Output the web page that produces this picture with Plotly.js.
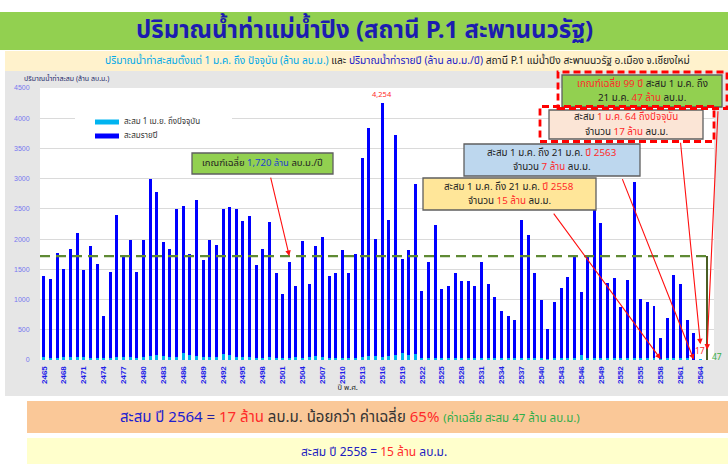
<!DOCTYPE html>
<html><head><meta charset="utf-8">
<script src="https://cdn.plot.ly/plotly-3.0.1.min.js"></script>
<style>html,body{margin:0;padding:0;background:#fff;}#chart{width:728px;height:464px;}</style>
</head><body><div id="chart"></div>
<script>
const years = [2465,2466,2467,2468,2469,2470,2471,2472,2473,2474,2475,2476,2477,2478,2479,2480,2481,2482,2483,2484,
2485,2486,2487,2488,2489,2490,2491,2492,2493,2494,2495,2496,2497,2498,2499,2500,2501,2502,2503,2504,
2505,2506,2507,2508,2509,2510,2511,2512,2513,2514,2515,2516,2517,2518,2519,2520,2521,2522,2523,2524,
2525,2526,2527,2528,2529,2530,2531,2532,2533,2534,2535,2536,2537,2538,2539,2540,2541,2542,2543,2544,
2545,2546,2547,2548,2549,2550,2551,2552,2553,2554,2555,2556,2557,2558,2559,2560,2561,2562,2563,2564];
// annual runoff (million m3/yr)
const annual = [1390,1340,1775,1500,1830,2105,1495,1885,1595,730,1455,2400,1700,1990,1450,1990,2995,2785,1955,1835,
2505,2545,1755,2645,1650,1985,1910,2490,2535,2500,2300,2385,1580,1835,2275,1435,1100,1625,1225,1975,
1255,1890,2035,1390,1445,1815,1445,1755,3340,3835,1995,4254,2320,3730,1670,1825,2910,1135,1625,2240,
1170,1230,1435,1315,1300,1230,1625,1255,1045,810,725,670,2320,2070,1445,995,510,965,1185,1375,
1720,1125,1745,2900,2265,1275,1355,870,1330,2940,1015,960,900,370,690,1405,1255,655,450,17];
// cumulative since 1 Jan to date (million m3)
const ytd = [45,40,40,45,50,55,45,40,40,30,30,45,50,45,40,45,60,75,60,50,
55,110,80,60,50,45,50,100,85,55,45,50,35,40,45,40,35,40,45,40,
55,70,50,40,35,40,35,35,55,70,60,55,65,75,110,80,95,40,35,40,
30,30,35,30,30,35,30,25,25,25,25,25,30,30,25,25,20,25,25,25,
30,90,40,35,30,30,30,25,30,35,30,30,25,15,25,30,35,25,7,17];
const tickYears = [2465,2468,2471,2474,2477,2480,2483,2486,2489,2492,2495,2498,2501,2504,2507,2510,2513,2516,
2519,2522,2525,2528,2531,2534,2537,2540,2543,2546,2549,2552,2555,2558,2561,2564];
const seriesNames = ['สะสม 1 เม.ย. ถึงปัจจุบัน', 'สะสมรายปี'];
const seriesColors = ['#00b4f0', '#0000ff'];
const avgAnnual = 1720;   // long-term mean, million m3/yr
const avgYtd = 47;        // 99-yr mean 1-21 Jan
const avgSlot = 2565;
const peakYear = 2516, peakVal = 4254;

const W = 728, H = 464;
const px = x => x / W, py = y => 1 - y / H;
const FONT = "Tahoma, 'Noto Sans Thai', 'Noto Sans', 'DejaVu Sans', sans-serif";
const RED = '#ff2a2a', DARK = '#222222';
const span = (c, t) => `<span style="color:${c}">${t}</span>`;

const traces = [
  {type:'bar', x:years, y:annual, name:seriesNames[1], width:0.45, showlegend:false,
   marker:{color:seriesColors[1], line:{width:0}}, hoverinfo:'x+y'},
  {type:'bar', x:years, y:ytd, name:seriesNames[0], width:0.45, showlegend:false,
   marker:{color:seriesColors[0], line:{width:0}}, hoverinfo:'x+y'},
  {type:'bar', x:[avgSlot], y:[avgAnnual], width:0.42, showlegend:false,
   marker:{color:'#4a5e24'}, hoverinfo:'y'}
];

const shapes = [];
const annotations = [];
const rectP = (x0,y0,x1,y1,fill,layer,line) => ({type:'rect', xref:'paper', yref:'paper', x0:px(x0), x1:px(x1), y0:py(y1), y1:py(y0),
  fillcolor:fill, line:line||{width:0}, layer:layer||'below'});
const txt = (x,y,text,size,color,anchor,extra) => Object.assign({xref:'paper', yref:'paper', x:px(x), y:py(y), text:text,
  showarrow:false, xanchor:anchor||'center', yanchor:'middle', font:{family:FONT, size:size, color:color||DARK}}, extra||{});

// page backgrounds
shapes.push(rectP(0,12,728,50,'#92d050'));
shapes.push(rectP(5,51,728,71,'#fff2cc'));
shapes.push(rectP(5,71,728,396,'#e6e6e6'));
shapes.push(rectP(40,88,714,360,'#ffffff'));
shapes.push(rectP(27,401,728,433,'#fac898'));
shapes.push(rectP(27,438,728,464,'#ffffcc'));
// average line
shapes.push({type:'line', xref:'x', yref:'y', x0:2464.4, x1:avgSlot, y0:avgAnnual, y1:avgAnnual,
   line:{color:'#5f8a34', width:2.2, dash:'10px,6px'}, layer:'above'});
// legend (white panel + swatches)
shapes.push(rectP(75,111,232,145,'#ffffff','above'));
shapes.push(rectP(95,119.5,119,124.5,seriesColors[0],'above'));
shapes.push(rectP(95,133.5,119,138.5,seriesColors[1],'above'));
annotations.push(txt(122,122,seriesNames[0],8,'#333333','left'));
annotations.push(txt(122,136,seriesNames[1],8,'#333333','left'));

// arrows
function arrow(xh,yh,ax,ay){
  annotations.push({x:xh, y:yh, xref:'x', yref:'y', ax:ax, ay:ay, axref:'pixel', ayref:'pixel',
    text:'', showarrow:true, arrowcolor:'#ff1010', arrowwidth:1.1, arrowhead:2, arrowsize:1, standoff:0, startstandoff:0});
}
arrow(2502, avgAnnual, -19, -80);
arrow(2563, ytd[98], -72, -182);
arrow(2558, ytd[93], -108, -147);
arrow(2564, 260, -20, -203);
arrow(avgSlot, 170, 11, -240);

// callout boxes: background shape + one annotation per line
function box(x0,y0,x1,y1,fill,lines,size,gap){
  shapes.push(rectP(x0,y0,x1,y1,fill,'above',{color:'#5f5f5f', width:1.3}));
  const cx = (x0+x1)/2, cy = (y0+y1)/2;
  lines.forEach((t,i) => annotations.push(txt(cx, cy + (i - (lines.length-1)/2)*gap, t, size, DARK)));
}
box(192,153,333,174,'#92d050', ['เกณฑ์เฉลี่ย ' + span('#2040d0','1,720 ล้าน') + ' ลบ.ม./ปี'], 9.5, 0);
box(464,144,640,176,'#bdd7ee', ['สะสม 1 ม.ค. ถึง 21 ม.ค. ' + span(RED,'ปี 2563'), 'จำนวน ' + span(RED,'7 ล้าน') + ' ลบ.ม.'], 9.8, 15);
box(423,178,596,210,'#ffe699', ['สะสม 1 ม.ค. ถึง 21 ม.ค. ' + span(RED,'ปี 2558'), 'จำนวน ' + span(RED,'15 ล้าน') + ' ลบ.ม.'], 9.8, 15);
box(549,110,703,139,'#fbe5d6', ['สะสม ' + span(RED,'1 ม.ค. 64 ถึงปัจจุบัน'), 'จำนวน ' + span(RED,'17 ล้าน') + ' ลบ.ม.'], 9.8, 14.5);
box(562,75,722,107,'#92d050', [span(RED,'เกณฑ์เฉลี่ย 99 ปี') + ' สะสม 1 ม.ค. ถึง', '21 ม.ค. ' + span(RED,'47 ล้าน') + ' ลบ.ม.'], 9.8, 15);
// dashed red highlight frames
shapes.push({type:'rect', xref:'paper', yref:'paper', x0:px(540), x1:px(714), y0:py(141.5), y1:py(106.5),
   line:{color:'#ff0000', width:2.8, dash:'7px,4px'}, fillcolor:'rgba(0,0,0,0)', layer:'above'});
shapes.push({type:'rect', xref:'paper', yref:'paper', x0:px(558), x1:px(727), y0:py(108.5), y1:py(72),
   line:{color:'#ff0000', width:2.8, dash:'7px,4px'}, fillcolor:'rgba(0,0,0,0)', layer:'above'});

// titles and labels
annotations.push(txt(364,31,'<b>ปริมาณน้ำท่าแม่น้ำปิง (สถานี P.1 สะพานนวรัฐ)</b>',24,'#1c1cb0'));
annotations.push(txt(398,61, span('#00a8e8','ปริมาณน้ำท่าสะสมตั้งแต่ 1 ม.ค. ถึง ปัจจุบัน (ล้าน ลบ.ม.)') + ' และ ' +
   span('#2020c8','ปริมาณน้ำท่ารายปี (ล้าน ลบ.ม./ปี)') + ' สถานี P.1 แม่น้ำปิง สะพานนวรัฐ อ.เมือง จ.เชียงใหม่', 10.2, DARK));
annotations.push(txt(22,79,'ปริมาณน้ำท่าสะสม (ล้าน ลบ.ม.)',7,'#1f2a6b','left'));
annotations.push(txt(347,387,'ปี พ.ศ.',7.5,DARK));
annotations.push({x:peakYear, y:peakVal, xref:'x', yref:'y', text:peakVal.toLocaleString('en-US'), showarrow:false,
   yanchor:'bottom', yshift:1, font:{family:FONT, size:7.5, color:RED}});
annotations.push({x:2564, y:ytd[ytd.length-1], xref:'x', yref:'y', text:String(ytd[ytd.length-1]), showarrow:false,
   yanchor:'bottom', yshift:-1, font:{family:FONT, size:8.5, color:RED}});
annotations.push({x:avgSlot, y:avgYtd, xref:'x', yref:'y', text:String(avgYtd), showarrow:false,
   xanchor:'left', xshift:3, yanchor:'middle', font:{family:FONT, size:8.5, color:'#3cb04a'}});
// bottom summary lines
annotations.push(txt(350,417, span('#2020d0','สะสม ปี 2564') + span('#2020a0',' = ') + span(RED,'17 ล้าน') +
   ' ลบ.ม. น้อยกว่า ค่าเฉลี่ย ' + span(RED,'65%') +
   ' <span style="color:#2fae4a;font-size:11.5px">(ค่าเฉลี่ย สะสม 47 ล้าน ลบ.ม.)</span>', 15, '#333333'));
annotations.push(txt(374,452, 'สะสม ปี 2558 = ' + span(RED,'15 ล้าน') + ' ลบ.ม.', 12, '#2020c0'));

const layout = {
  width:W, height:H, margin:{l:0, r:0, t:0, b:0},
  paper_bgcolor:'#ffffff', plot_bgcolor:'rgba(0,0,0,0)',
  barmode:'overlay', bargap:0, showlegend:false,
  font:{family:FONT, color:DARK},
  xaxis:{domain:[px(40), px(714)], range:[2464.4, 2566.05], tickmode:'array', tickvals:tickYears,
    ticktext:tickYears.map(String), tickangle:-90, tickfont:{family:"'Liberation Sans', Arial, sans-serif", size:8, color:'#1f1fe8', weight:'bold'},
    showgrid:false, zeroline:false, showline:false, ticks:'outside', ticklen:2, tickcolor:'rgba(0,0,0,0)', fixedrange:true},
  yaxis:{domain:[py(360), py(88)], range:[0,4500], dtick:500, tick0:0, gridcolor:'#dadada', gridwidth:1,
    tickfont:{family:"'Liberation Sans', Arial, sans-serif", size:7, color:'#7878f0'}, zeroline:false, showline:false,
    ticks:'outside', ticklen:8, tickcolor:'rgba(0,0,0,0)', fixedrange:true},
  shapes:shapes, annotations:annotations
};

Plotly.newPlot('chart', traces, layout, {displayModeBar:false, staticPlot:true});
</script></body></html>
